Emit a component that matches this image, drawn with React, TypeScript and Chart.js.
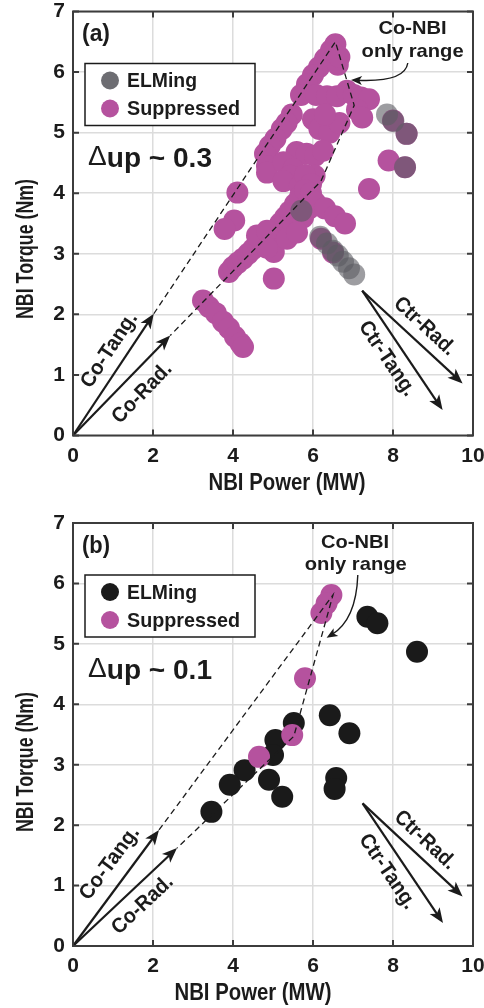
import { useEffect, useRef } from "react";
import { Chart, registerables } from "chart.js";

Chart.register(...registerables);

// Axis ticks shared by both panels
const powerTicks = [0, 2, 4, 6, 8, 10];
const torqueTicks = [0, 1, 2, 3, 4, 5, 6, 7];

// Panel (a): Δup ~ 0.3
const aSuppressedPower = [
  6.56, 6.45, 6.3, 6.15, 6.0, 5.85, 5.7, 6.62, 6.66,
  6.08, 6.35, 6.6, 6.85, 7.02, 7.2, 7.4,
  7.1, 7.23,
  6.0, 6.16, 6.41, 6.66, 6.3,
  5.47, 5.34, 5.22, 5.06, 4.92, 4.8, 4.85, 4.85,
  5.59, 5.84, 6.05, 6.25, 5.26, 5.51, 5.43, 5.26, 5.67, 6.04, 5.8, 5.95,
  4.11, 7.4, 7.89,
  8.0, 8.34, 8.3,
  4.03, 3.79,
  3.9, 4.0, 4.12, 4.25, 4.38, 4.5, 4.62, 4.75, 4.9, 5.05, 5.18, 5.3, 5.42, 5.55, 5.68, 5.8, 5.95,
  4.6, 4.85,
  5.02, 4.85, 5.02,
  5.5, 5.75, 5.9, 6.05, 6.3, 6.55, 6.8, 6.2, 6.5, 5.35, 5.6,
  3.25, 3.4, 3.57, 3.75, 3.9, 4.05, 4.19, 4.25,
];
const aSuppressedTorque = [
  6.46, 6.36, 6.22, 6.08, 5.95, 5.8, 5.62, 6.12, 6.25,
  5.62, 5.6, 5.6, 5.69, 5.62, 5.58, 5.55,
  5.38, 5.25,
  5.22, 5.06, 5.0, 5.16, 5.3,
  5.3, 5.16, 5.06, 4.9, 4.78, 4.65, 4.45, 4.34,
  4.68, 4.65, 4.62, 4.7, 4.51, 4.4, 4.29, 4.2, 4.12, 4.29, 4.3, 4.15,
  4.01, 4.07, 4.54,
  5.2, 4.98, 4.43,
  3.55, 3.41,
  2.7, 2.78, 2.85, 2.92, 3.0, 3.08, 3.16, 3.25, 3.32, 3.38, 3.5, 3.6, 3.7, 3.82, 3.95, 4.05, 4.0,
  3.3, 3.38,
  3.03, 3.1, 2.59,
  3.45, 3.6, 3.75, 3.85, 3.75, 3.62, 3.5, 3.25, 3.02, 3.25, 3.35,
  2.23, 2.12, 2.02, 1.88, 1.77, 1.63, 1.52, 1.46,
];
const aElmingPower = [7.85, 8.01, 8.34, 8.3, 5.71, 6.18, 6.35, 6.5, 6.62, 6.75, 6.9, 7.03];
const aElmingTorque = [5.3, 5.19, 4.98, 4.43, 3.71, 3.28, 3.17, 3.05, 2.97, 2.87, 2.76, 2.66];

// Panel (b): Δup ~ 0.1
const bSuppressedPower = [6.46, 6.34, 6.21, 5.8, 5.48, 4.65];
const bSuppressedTorque = [5.81, 5.67, 5.51, 4.43, 3.49, 3.13];
const bElmingPower = [7.36, 7.61, 8.6, 6.42, 6.91, 5.52, 5.06, 5.0, 4.9, 5.23, 4.29, 3.92, 3.46, 6.58, 6.54];
const bElmingTorque = [5.45, 5.34, 4.87, 3.82, 3.52, 3.69, 3.41, 3.16, 2.75, 2.47, 2.91, 2.67, 2.22, 2.78, 2.6];

// Co-NBI only range outline (power, torque vertices)
const aRangePower = [2.02, 6.56, 7.03, 6.2, 2.43];
const aRangeTorque = [2.01, 6.5, 5.45, 4.2, 1.65];
const bRangePower = [2.15, 6.5, 5.52, 2.6];
const bRangeTorque = [1.92, 5.81, 3.47, 1.62];

// Beam vectors: [startPower, startTorque, tipPower, tipTorque]
const aCoTang = [0, 0, 2.02, 2.01];
const aCoRad = [0, 0, 2.43, 1.65];
const aCtrRad = [7.23, 2.39, 9.74, 0.86];
const aCtrTang = [7.23, 2.39, 9.24, 0.42];
const bCoTang = [0, 0, 2.15, 1.92];
const bCoRad = [0, 0, 2.6, 1.62];
const bCtrRad = [7.24, 2.36, 9.74, 0.82];
const bCtrTang = [7.24, 2.36, 9.25, 0.38];

const FONT = '"Liberation Sans", Arial, Helvetica, sans-serif';
const INK = "#1b1b1b";
const PURPLE = "rgb(181, 82, 158)";
const GREY = "rgba(92, 92, 98, 0.6)";
const GREY_SWATCH = "#6d6d72";
const BLACK = "#1a1a1a";

type Vec = number[];

interface PanelSpec {
  label: string;
  delta: string;
  height: number;
  padTop: number;
  chartBottom: number;
  xTitleX: number;
  yTitleY: number;
  elming: { power: number[]; torque: number[]; color: string; swatch: string };
  suppressed: { power: number[]; torque: number[] };
  elmingOnTop: boolean;
  rangePower: number[];
  rangeTorque: number[];
  coTang: Vec;
  coRad: Vec;
  ctrRad: Vec;
  ctrTang: Vec;
  coTangLabel: Vec;
  coRadLabel: Vec;
  ctrRadLabel: Vec;
  ctrTangLabel: Vec;
  noteLine1: Vec;
  noteLine2: Vec;
  notePointer: Vec;
}

const panels: PanelSpec[] = [
  {
    label: "(a)",
    delta: "0.3",
    height: 500,
    padTop: 11.5,
    chartBottom: 435.5,
    xTitleX: 287,
    yTitleY: 249,
    elming: { power: aElmingPower, torque: aElmingTorque, color: GREY, swatch: GREY_SWATCH },
    suppressed: { power: aSuppressedPower, torque: aSuppressedTorque },
    elmingOnTop: true,
    rangePower: aRangePower,
    rangeTorque: aRangeTorque,
    coTang: aCoTang,
    coRad: aCoRad,
    ctrRad: aCtrRad,
    ctrTang: aCtrTang,
    coTangLabel: [0.91, 1.41],
    coRadLabel: [1.73, 0.7],
    ctrRadLabel: [8.79, 1.8],
    ctrTangLabel: [7.85, 1.27],
    noteLine1: [8.49, 6.72],
    noteLine2: [8.49, 6.33],
    notePointer: [8.37, 6.15, 8.3, 5.83, 6.95, 5.87],
  },
  {
    label: "(b)",
    delta: "0.1",
    height: 508,
    padTop: 23,
    chartBottom: 446,
    xTitleX: 253,
    yTitleY: 262,
    elming: { power: bElmingPower, torque: bElmingTorque, color: BLACK, swatch: BLACK },
    suppressed: { power: bSuppressedPower, torque: bSuppressedTorque },
    elmingOnTop: false,
    rangePower: bRangePower,
    rangeTorque: bRangeTorque,
    coTang: bCoTang,
    coRad: bCoRad,
    ctrRad: bCtrRad,
    ctrTang: bCtrTang,
    coTangLabel: [0.92, 1.37],
    coRadLabel: [1.74, 0.68],
    ctrRadLabel: [8.8, 1.75],
    ctrTangLabel: [7.86, 1.23],
    noteLine1: [7.05, 6.67],
    noteLine2: [7.07, 6.31],
    notePointer: [7.12, 6.14, 7.08, 5.4, 6.34, 5.1],
  },
];

const toPoints = (xs: number[], ys: number[]) => xs.map((x, i) => ({ x, y: ys[i] }));

// Draws text squeezed horizontally to a given width (condensed face look)
function fitText(
  ctx: CanvasRenderingContext2D,
  text: string,
  x: number,
  y: number,
  size: number,
  width: number,
  align: CanvasTextAlign = "center",
  weight = "bold",
) {
  ctx.save();
  ctx.font = `${weight} ${size}px ${FONT}`;
  const w = ctx.measureText(text).width;
  ctx.translate(x, y);
  ctx.scale(width / w, 1);
  ctx.textAlign = align;
  ctx.textBaseline = "middle";
  ctx.fillText(text, 0, 0);
  ctx.restore();
}

function arrowHead(ctx: CanvasRenderingContext2D, tx: number, ty: number, ang: number, len: number, half: number) {
  ctx.beginPath();
  ctx.moveTo(tx, ty);
  ctx.lineTo(tx - len * Math.cos(ang) + half * Math.sin(ang), ty - len * Math.sin(ang) - half * Math.cos(ang));
  ctx.lineTo(tx - len * 0.75 * Math.cos(ang), ty - len * 0.75 * Math.sin(ang));
  ctx.lineTo(tx - len * Math.cos(ang) - half * Math.sin(ang), ty - len * Math.sin(ang) + half * Math.cos(ang));
  ctx.closePath();
  ctx.fill();
}

function makeOverlay(spec: PanelSpec) {
  return {
    id: "panelOverlay",
    afterDatasetsDraw(chart: any) {
      const ctx: CanvasRenderingContext2D = chart.ctx;
      const xs = chart.scales.x;
      const ys = chart.scales.y;
      const X = (v: number) => xs.getPixelForValue(v);
      const Y = (v: number) => ys.getPixelForValue(v);
      const area = chart.chartArea;
      ctx.save();
      ctx.strokeStyle = INK;
      ctx.fillStyle = INK;

      // dashed outline of the co-injection-only range
      ctx.setLineDash([6, 4]);
      ctx.lineWidth = 1.3;
      ctx.beginPath();
      spec.rangePower.forEach((p, i) => {
        const px = X(p);
        const py = Y(spec.rangeTorque[i]);
        if (i === 0) ctx.moveTo(px, py);
        else ctx.lineTo(px, py);
      });
      ctx.stroke();
      ctx.setLineDash([]);

      // beam vectors with labels
      const vectors: [Vec, Vec, string, number][] = [
        [spec.coTang, spec.coTangLabel, "Co-Tang.", 86],
        [spec.coRad, spec.coRadLabel, "Co-Rad.", 76],
        [spec.ctrRad, spec.ctrRadLabel, "Ctr-Rad.", 76],
        [spec.ctrTang, spec.ctrTangLabel, "Ctr-Tang.", 86],
      ];
      for (const [v, lab, text, w] of vectors) {
        const x0 = X(v[0]);
        const y0 = Y(v[1]);
        const x1 = X(v[2]);
        const y1 = Y(v[3]);
        const ang = Math.atan2(y1 - y0, x1 - x0);
        ctx.lineWidth = 2.2;
        ctx.beginPath();
        ctx.moveTo(x0, y0);
        ctx.lineTo(x1 - 10 * Math.cos(ang), y1 - 10 * Math.sin(ang));
        ctx.stroke();
        arrowHead(ctx, x1, y1, ang, 15, 6);
        ctx.save();
        ctx.translate(X(lab[0]), Y(lab[1]));
        ctx.rotate(ang);
        fitText(ctx, text, 0, 0, 21, w);
        ctx.restore();
      }

      // "Co-NBI only range" note with curved pointer
      fitText(ctx, "Co-NBI", X(spec.noteLine1[0]), Y(spec.noteLine1[1]), 19, 68);
      fitText(ctx, "only range", X(spec.noteLine2[0]), Y(spec.noteLine2[1]), 19, 102);
      const np = spec.notePointer;
      const sx = X(np[0]);
      const sy = Y(np[1]);
      const cx = X(np[2]);
      const cy = Y(np[3]);
      const ex = X(np[4]);
      const ey = Y(np[5]);
      const pang = Math.atan2(ey - cy, ex - cx);
      ctx.lineWidth = 1.4;
      ctx.beginPath();
      ctx.moveTo(sx, sy);
      ctx.quadraticCurveTo(cx, cy, ex - 6 * Math.cos(pang), ey - 6 * Math.sin(pang));
      ctx.stroke();
      arrowHead(ctx, ex, ey, pang, 11, 4.5);

      // panel label
      fitText(ctx, spec.label, area.left + 9, area.top + 23.5, 23, 28, "left");

      // Δup annotation
      ctx.save();
      ctx.font = `28px ${FONT}`;
      const wd = ctx.measureText("Δ").width;
      ctx.font = `bold 28px ${FONT}`;
      const rest = `up ~ ${spec.delta}`;
      const wr = ctx.measureText(rest).width;
      ctx.translate(area.left + 15, area.top + 146);
      ctx.scale(124 / (wd + wr), 1);
      ctx.textAlign = "left";
      ctx.textBaseline = "middle";
      ctx.font = `28px ${FONT}`;
      ctx.fillText("Δ", 0, 0);
      ctx.font = `bold 28px ${FONT}`;
      ctx.fillText(rest, wd, 2);
      ctx.restore();

      // legend
      const lx = area.left + 12;
      const ly = area.top + 52;
      ctx.fillStyle = "#ffffff";
      ctx.fillRect(lx, ly, 170, 62);
      ctx.strokeStyle = INK;
      ctx.lineWidth = 1.5;
      ctx.strokeRect(lx, ly, 170, 62);
      const rows: [string, string, number][] = [
        [spec.elming.swatch, "ELMing", 70],
        [PURPLE, "Suppressed", 113],
      ];
      rows.forEach(([col, text, w], i) => {
        const ry = ly + 17 + i * 28;
        ctx.fillStyle = col;
        ctx.beginPath();
        ctx.arc(lx + 25, ry, 9, 0, Math.PI * 2);
        ctx.fill();
        ctx.fillStyle = INK;
        fitText(ctx, text, lx + 42, ry + 1, 21, w, "left");
      });
      ctx.restore();
    },
    afterDraw(chart: any) {
      const ctx: CanvasRenderingContext2D = chart.ctx;
      const xs = chart.scales.x;
      const ys = chart.scales.y;
      const { left, right, top, bottom } = chart.chartArea;
      ctx.save();
      ctx.strokeStyle = "#3c3c3c";
      ctx.lineWidth = 2;
      ctx.strokeRect(left, top, right - left, bottom - top);
      ctx.beginPath();
      for (const v of powerTicks) {
        const px = xs.getPixelForValue(v);
        ctx.moveTo(px, bottom);
        ctx.lineTo(px, bottom - 6);
        ctx.moveTo(px, top);
        ctx.lineTo(px, top + 6);
      }
      for (const v of torqueTicks) {
        const py = ys.getPixelForValue(v);
        ctx.moveTo(left, py);
        ctx.lineTo(left + 6, py);
        ctx.moveTo(right, py);
        ctx.lineTo(right - 6, py);
      }
      ctx.stroke();

      // axis titles
      ctx.fillStyle = INK;
      fitText(ctx, "NBI Power (MW)", spec.xTitleX, bottom + 47.5, 24, 157);
      ctx.save();
      ctx.translate(26, spec.yTitleY);
      ctx.rotate(-Math.PI / 2);
      fitText(ctx, "NBI Torque (Nm)", 0, 0, 24, 140);
      ctx.restore();
      ctx.restore();
    },
  };
}

function buildConfig(spec: PanelSpec): any {
  const tickFont = { family: FONT, size: 21, weight: "bold" as const };
  const elmingSet = {
    label: "ELMing",
    data: toPoints(spec.elming.power, spec.elming.torque),
    backgroundColor: spec.elming.color,
    borderWidth: 0,
    pointRadius: 11,
    pointHoverRadius: 11,
    order: spec.elmingOnTop ? 0 : 1,
  };
  const suppressedSet = {
    label: "Suppressed",
    data: toPoints(spec.suppressed.power, spec.suppressed.torque),
    backgroundColor: PURPLE,
    borderWidth: 0,
    pointRadius: 11,
    pointHoverRadius: 11,
    order: spec.elmingOnTop ? 1 : 0,
  };
  return {
    type: "scatter",
    data: { datasets: [elmingSet, suppressedSet] },
    options: {
      responsive: false,
      animation: false,
      devicePixelRatio: 1,
      events: [],
      layout: { padding: { left: 0, right: 5, top: spec.padTop, bottom: 0 } },
      plugins: { legend: { display: false }, tooltip: { enabled: false } },
      scales: {
        x: {
          type: "linear",
          min: 0,
          max: 10,
          afterBuildTicks: (s: any) => {
            s.ticks = powerTicks.map((value) => ({ value }));
          },
          afterFit: (s: any) => {
            s.height = spec.height - spec.chartBottom;
            s.paddingLeft = 0;
            s.paddingRight = 0;
          },
          grid: { color: "#dcdcdc", lineWidth: 1.5, drawTicks: false },
          border: { display: false },
          ticks: { font: tickFont, color: INK, padding: 8, maxRotation: 0, autoSkip: false },
        },
        y: {
          type: "linear",
          min: 0,
          max: 7,
          afterBuildTicks: (s: any) => {
            s.ticks = torqueTicks.map((value) => ({ value }));
          },
          afterFit: (s: any) => {
            s.width = 73;
            s.paddingTop = 0;
            s.paddingBottom = 0;
          },
          grid: { color: "#dcdcdc", lineWidth: 1.5, drawTicks: false },
          border: { display: false },
          ticks: { font: tickFont, color: INK, padding: 8, autoSkip: false },
        },
      },
    },
    plugins: [makeOverlay(spec)],
  };
}

function Panel({ spec, top }: { spec: PanelSpec; top: number }) {
  const ref = useRef<HTMLCanvasElement>(null);
  useEffect(() => {
    const chart = new Chart(ref.current as HTMLCanvasElement, buildConfig(spec));
    return () => chart.destroy();
  }, [spec]);
  return (
    <canvas
      ref={ref}
      width={484}
      height={spec.height}
      style={{ position: "absolute", left: 0, top, width: 484, height: spec.height }}
    />
  );
}

export default function App() {
  return (
    <div style={{ position: "absolute", left: 0, top: 0, width: 484, height: 1008, background: "#fff" }}>
      <Panel spec={panels[0]} top={0} />
      <Panel spec={panels[1]} top={500} />
    </div>
  );
}
